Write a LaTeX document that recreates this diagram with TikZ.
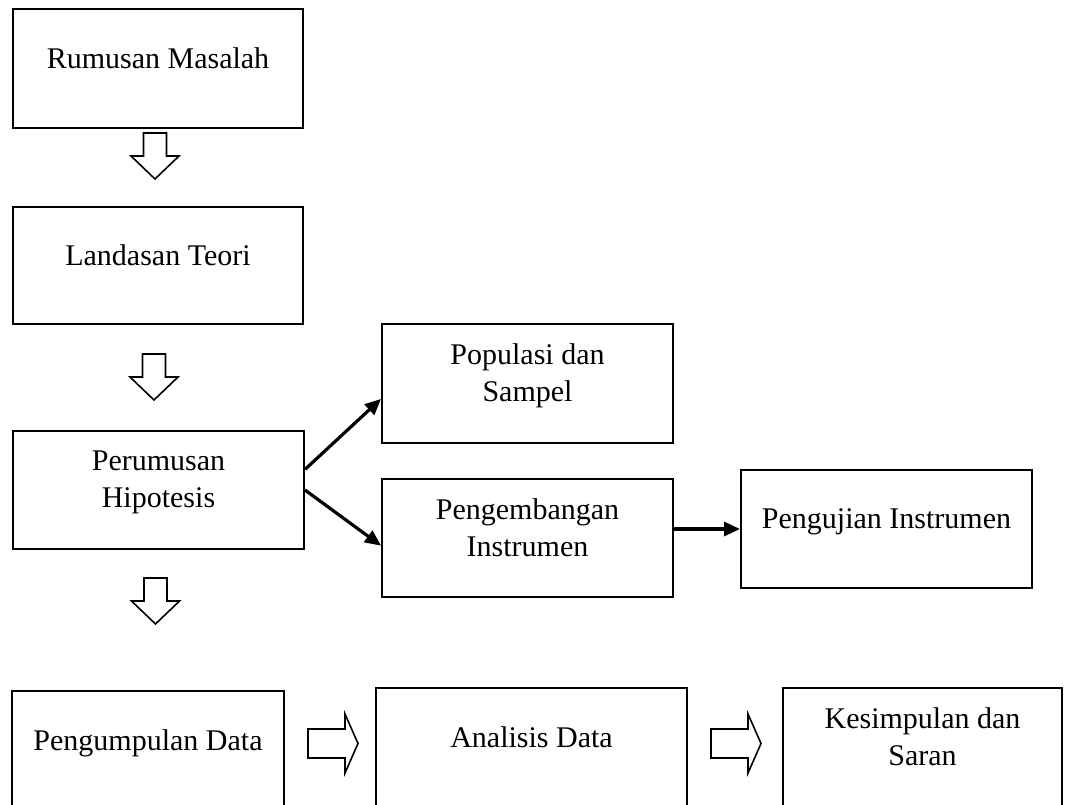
\documentclass[tikz,border=0pt]{standalone}
\usepackage{fontspec}
\setmainfont{Liberation Serif}
\usetikzlibrary{arrows.meta}

\tikzset{
  box/.style={draw, line width=1.5pt, align=center, inner sep=0pt,
    font=\fontsize{22.5}{27.75}\selectfont,
    execute at end node={\rule[-16pt]{0pt}{16pt}}},
  hollow/.style={draw, line width=1.2pt, fill=white, line join=miter},
  thinarrow/.style={line width=2.4pt, -{Triangle[length=12pt,width=10.5pt]}}
}

\begin{document}
\begin{tikzpicture}[x=0.75pt,y=-0.75pt]
        \useasboundingbox (0,0) rectangle (1087,804);
        \clip (0,0) rectangle (1087,804);

        %Boxes, left column
        \node[box, minimum width=290*0.75pt, minimum height=119*0.75pt] (rum) at (158,68.5) {Rumusan Masalah};
        \node[box, minimum width=290*0.75pt, minimum height=117*0.75pt] (lan) at (158,265.5) {Landasan Teori};
        \node[box, minimum width=291*0.75pt, minimum height=118*0.75pt] (per) at (158.5,490) {Perumusan\\Hipotesis};

        %Boxes, right of hipotesis
        \node[box, minimum width=291*0.75pt, minimum height=119*0.75pt] (pop) at (527.5,383.5) {Populasi dan\\Sampel};
        \node[box, minimum width=291*0.75pt, minimum height=118*0.75pt] (pen) at (527.5,538) {Pengembangan\\Instrumen};
        \node[box, minimum width=291*0.75pt, minimum height=118*0.75pt] (uji) at (886.5,529) {Pengujian Instrumen};

        %Boxes, bottom row (cut by the page edge)
        \node[box, minimum width=272*0.75pt, minimum height=119*0.75pt] (kum) at (148,750.5) {Pengumpulan Data};
        \node[box, minimum width=311*0.75pt, minimum height=119*0.75pt] (ana) at (531.5,747.5) {Analisis Data};
        \node[box, minimum width=279*0.75pt, minimum height=119*0.75pt] (kes) at (922.5,747.5) {Kesimpulan dan\\Saran};

        %Shape: hollow arrows down
        \coordinate (d1) at (155,133);
        \coordinate (d2) at (154,354);
        \coordinate (d3) at (155.5,578);
        \foreach \d in {d1,d2,d3}
          \draw[hollow] (\d) ++(-11.5,0) -- ++(23,0) -- ++(0,23) -- ++(12.5,0)
            -- ++(-24,23) -- ++(-24,-23) -- ++(12.5,0) -- cycle;

        %Shape: hollow arrows right
        \coordinate (r1) at (308,743);
        \coordinate (r2) at (711,743);
        \foreach \r in {r1,r2}
          \draw[hollow] (\r) ++(0,-14) -- ++(37,0) -- ++(0,-15) -- ++(13,29.5)
            -- ++(-13,29.5) -- ++(0,-15) -- ++(-37,0) -- cycle;

        %Connectors
        \draw[thinarrow] (per.8.6) -- (pop.186.5);
        \draw[thinarrow] (per.east) -- (pen.183.9);
        \draw[thinarrow] (pen.east |- uji.west) -- (uji.west);
    \end{tikzpicture}
\end{document}
